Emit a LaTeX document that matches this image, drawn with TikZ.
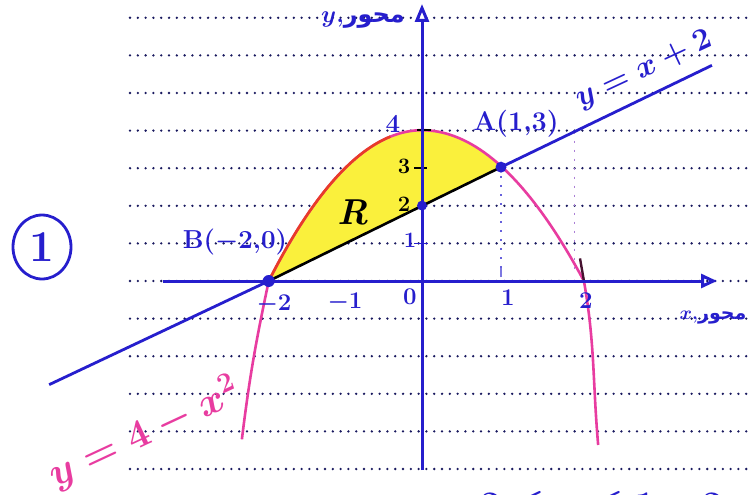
\RequirePackage{fix-cm}
\documentclass[tikz,border=0pt]{standalone}
\usepackage{fontspec}
\TeXXeTstate=1
\newfontfamily\arabicfont[Script=Arabic]{DejaVu Sans}
\usetikzlibrary{arrows.meta}
\definecolor{pen}{RGB}{38,30,205}
\definecolor{pinkpen}{RGB}{232,60,160}
\definecolor{redpen}{RGB}{232,60,40}
\definecolor{hl}{RGB}{250,240,60}
\definecolor{dotc}{RGB}{25,25,95}
\newcommand\hsz[1]{\fontsize{#1}{#1}\selectfont\bfseries\boldmath}
\begin{document}
\begin{tikzpicture}[x=1pt,y=-1pt,
  rule/.style={dotc, line width=2.6pt, line cap=round, dash pattern=on 0pt off 7.8pt},
  axis/.style={pen, line width=3pt},
  lbl/.style={pen, inner sep=0pt},
  blk/.style={black, inner sep=0pt},
  guide/.style={line width=1.2pt, dash pattern=on 2pt off 7pt},
  ptdot/.style={pen, fill=pen}]
\useasboundingbox (0,0) rectangle (748,495);
\fill[white] (0,0) rectangle (748,495);
% ruled paper
\foreach \k in {-5,...,7} \draw[rule] (130,{281-\k*37.6}) -- (748,{281-\k*37.6});
% math scope
\begin{scope}[shift={(422,281)},x=79pt,y=37.7pt]
  \coordinate (O) at (0,0);
  \coordinate (B) at (-1.94,0);
  \coordinate (A) at (1,3.02);
  \coordinate (C) at (0,2);
  \coordinate (T) at (0,4);
  \coordinate (P2) at (2.05,0);
  \coordinate (Q) at (1.93,3.96);
  \coordinate (Qb) at (1.93,0.3);
  \coordinate (Ab) at (1,0.05);
  \coordinate (Lend) at (-4.72,-2.75);
  \coordinate (Rend) at (3.67,5.72);
  \coordinate (PL) at (-2.28,-4.2);
  \coordinate (PR) at (2.23,-4.35);
  % region R
  \fill[hl] (B) -- plot[domain=-1.94:0,samples=40] (\x,{4-4*(\x/1.94)^2})
     -- plot[domain=0:1,samples=20] (\x,{4-4*(\x/2.05)^2}) -- cycle;
  % guides
  \draw[guide, pen!70] (A) -- (Ab);
  \draw[guide, pinkpen!40!pen!60] (Q) -- (Qb);
  % parabola
  \draw[pinkpen, line width=2.6pt] (PL) to[out=83,in=-102] (B)
     plot[domain=-1.94:0,samples=40] (\x,{4-4*(\x/1.94)^2})
     -- plot[domain=0:2.05,samples=40] (\x,{4-4*(\x/2.05)^2}) to[out=-80,in=95] (PR);
  \draw[redpen, line width=2.6pt] plot[domain=-1.94:-0.4,samples=40] (\x,{4-4*(\x/1.94)^2});
  \draw[black!70!pinkpen, line width=2.4pt] (2.0,0.6) -- (P2);
  % line y = x + 2
  \draw[pen, line width=2.8pt] (Lend) -- (B);
  \draw[black, line width=2.6pt] (B) -- (A);
  \draw[pen, line width=2.8pt] (A) -- (Rend);
  % ticks on the y-axis
  \draw[black, line width=1.6pt] (-0.06,4) -- (0.12,4);
  \draw[black, line width=1.6pt] (-0.1,3) -- (0.06,3);
  \draw[pen, line width=1.6pt] (-0.1,1) -- (0.08,1);
  \draw[pen!60, line width=1.2pt] (1,0.1) -- (1,0.35);
\end{scope}
% axes
\draw[axis, -{Triangle[open, length=18pt, width=14pt, line width=3pt]}] (422,470) -- (422,4);
\draw[axis, -{Triangle[open, length=16pt, width=14pt, line width=3pt]}] (163,281) -- (717,281);
% points
\fill[ptdot] (A) circle (5.5pt);
\fill[ptdot] (B) circle (6pt);
\fill[ptdot] (C) circle (5pt);
% tick numbers
\node[lbl, font=\hsz{26}] (n4) at (393,124) {4};
\node[blk, font=\hsz{22}] (n3) at (404,166) {3};
\node[blk, font=\hsz{22}] (n2) at (404,204) {2};
\node[lbl, font=\hsz{22}] (n1) at (410,240) {1};
\node[lbl, font=\hsz{24}] (n0) at (410,297) {0};
\node[lbl, font=\hsz{24}] (nm1) at (345,302) {$-1$};
\node[lbl, font=\hsz{24}] (nm2) at (274,304) {$-2$};
\node[lbl, font=\hsz{24}] (np1) at (508,298) {1};
\node[lbl, font=\hsz{24}] (np2) at (586,301) {2};
% region label
\node[blk, font=\hsz{36}\itshape] (Rl) at (353,212) {R};
% point labels
\node[lbl, font=\hsz{27}] (Al) at (516,124) {A(1,3)};
\node[lbl, font=\hsz{26}] (Bl) at (235,242) {B($-$2,0)};
% curve labels
\node[lbl, font=\hsz{31}, rotate=25] (lineL) at (644,70) {$y=x+2$};
\node[pinkpen, inner sep=0pt, font=\hsz{40}, rotate=25] (parL) at (144,433) {$y=4-x^{2}$};
% axis names
\node[lbl, font=\hsz{24}] (yname) at (363,20) {$y$,{\arabicfont\bfseries\beginR محور\endR}};
\node[lbl, font=\hsz{19}] (xname) at (713,318) {$x$,{\arabicfont\bfseries\beginR محور\endR}};
% circled number
\draw[pen, line width=2.8pt] (42,247) ellipse (29pt and 32pt);
\node[lbl, font=\hsz{44}] (one) at (42,247) {1};
% bottom text (cut by the page edge)
\node[lbl, anchor=base west, font=\hsz{36}] (cond) at (448,516) {$-2\le x\le 1$};
\node[lbl, anchor=base west, font=\hsz{36}] (cond2) at (702,516) {$2$};
\end{tikzpicture}
\end{document}
